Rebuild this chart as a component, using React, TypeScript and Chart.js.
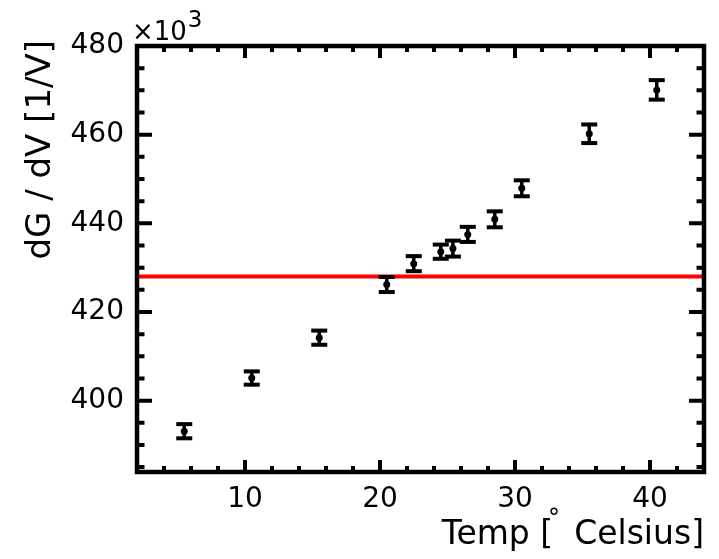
import React, { useEffect, useRef } from "react";
import { Chart, registerables } from "chart.js";

Chart.register(...registerables);

// ---- data ----
const temps = [5.5, 10.5, 15.5, 20.5, 22.5, 24.5, 25.4, 26.5, 28.5, 30.5, 35.5, 40.5];
const dGdV = [393.1, 405.1, 414.2, 426.2, 430.9, 433.6, 434.3, 437.5, 440.9, 447.9, 460.2, 470.1];
const dGdVErr = [1.6, 1.5, 1.6, 1.7, 1.7, 1.6, 1.8, 1.7, 1.8, 1.8, 2.1, 2.2];
const fitLevel = 428.0;

const xTickValues = [10, 20, 30, 40];
const yTickValues = [400, 420, 440, 460, 480];
const xRange = [2.0, 44.0];
const yRange = [383.9, 480];
const xMinorStep = 2;
const yMinorStep = 5;

const xTitle = "Temp [  Celsius]";
const yTitle = "dG / dV [1/V]";
const degreeMark = "°";
const exponentBase = "×10";
const exponentPower = "3";

const FONT = '"DejaVu Sans", "Liberation Sans", sans-serif';

const rootPlugin = {
  id: "rootStyle",
  afterDatasetDraw(chart: any, args: any) {
    if (args.index !== 1) return;
    const ctx = chart.ctx;
    const xs = chart.scales.x;
    const ys = chart.scales.y;
    ctx.save();
    ctx.fillStyle = "#000";
    for (let i = 0; i < temps.length; i++) {
      const px = xs.getPixelForValue(temps[i]);
      const pHi = ys.getPixelForValue(dGdV[i] + dGdVErr[i]);
      const pLo = ys.getPixelForValue(dGdV[i] - dGdVErr[i]);
      ctx.fillRect(px - 1.75, pHi, 3.5, pLo - pHi);
      ctx.fillRect(px - 8, pHi - 2, 16, 4);
      ctx.fillRect(px - 8, pLo - 2, 16, 4);
    }
    ctx.restore();
  },
  afterDraw(chart: any) {
    const ctx = chart.ctx;
    const xs = chart.scales.x;
    const ys = chart.scales.y;
    const { left, right, top, bottom } = chart.chartArea;
    ctx.save();
    ctx.strokeStyle = "#000";
    ctx.lineWidth = 4.5;
    ctx.lineCap = "butt";
    ctx.lineJoin = "miter";
    ctx.strokeRect(left, top, right - left, bottom - top);
    ctx.lineWidth = 4;
    // y ticks
    const yStart = Math.ceil(yRange[0] / yMinorStep) * yMinorStep;
    for (let v = yStart; v <= yRange[1] + 1e-9; v += yMinorStep) {
      const py = ys.getPixelForValue(v);
      const major = yTickValues.includes(v);
      const len = major ? 15 : 7.5;
      ctx.beginPath();
      ctx.moveTo(left, py);
      ctx.lineTo(left + len, py);
      ctx.moveTo(right, py);
      ctx.lineTo(right - len, py);
      ctx.stroke();
    }
    // x ticks
    const xStart = Math.ceil(xRange[0] / xMinorStep) * xMinorStep;
    for (let v = xStart; v <= xRange[1] + 1e-9; v += xMinorStep) {
      const px = xs.getPixelForValue(v);
      const major = xTickValues.includes(v);
      const len = major ? 12 : 6;
      ctx.beginPath();
      ctx.moveTo(px, bottom);
      ctx.lineTo(px, bottom - len);
      ctx.moveTo(px, top);
      ctx.lineTo(px, top + len);
      ctx.stroke();
    }
    // y title
    ctx.fillStyle = "#000";
    ctx.save();
    ctx.translate(41.2, 40);
    ctx.rotate(-Math.PI / 2);
    ctx.font = `34px ${FONT}`;
    ctx.textAlign = "right";
    ctx.textBaseline = "middle";
    ctx.fillText(yTitle, 0, 0);
    ctx.restore();
    // exponent
    ctx.font = `26px ${FONT}`;
    ctx.textAlign = "left";
    ctx.textBaseline = "alphabetic";
    ctx.fillText(exponentBase, 132, 40);
    const w = ctx.measureText(exponentBase).width;
    ctx.font = `23px ${FONT}`;
    ctx.fillText(exponentPower, 132 + w + 1, 27);
    // degree mark
    ctx.font = `24px ${FONT}`;
    ctx.textAlign = "center";
    ctx.fillText(degreeMark, 554, 526);
    ctx.restore();
  },
};

export default function App() {
  const ref = useRef<HTMLCanvasElement | null>(null);
  useEffect(() => {
    if (!ref.current) return;
    const chart = new Chart(ref.current, {
      type: "scatter",
      data: {
        datasets: [
          {
            type: "scatter",
            label: "dG/dV",
            data: temps.map((t, i) => ({ x: t, y: dGdV[i] })),
            pointRadius: 3.5,
            pointBackgroundColor: "#000",
            pointBorderWidth: 0,
            backgroundColor: "#000",
          } as any,
          {
            type: "line",
            label: "fit",
            data: [
              { x: xRange[0], y: fitLevel },
              { x: xRange[1], y: fitLevel },
            ],
            borderColor: "#ff0000",
            borderWidth: 4,
            pointRadius: 0,
            fill: false,
          } as any,
        ],
      },
      options: {
        animation: false,
        responsive: false,
        maintainAspectRatio: false,
        devicePixelRatio: 1,
        layout: { padding: { left: 0, top: 46, right: 15, bottom: 0 } },
        plugins: { legend: { display: false }, tooltip: { enabled: false } },
        scales: {
          x: {
            type: "linear",
            position: "bottom",
            min: xRange[0],
            max: xRange[1],
            afterBuildTicks: (s: any) => {
              s.ticks = xTickValues.map((v) => ({ value: v }));
            },
            afterFit: (s: any) => {
              s.height = 87;
            },
            grid: { display: false, drawTicks: false },
            border: { display: false },
            ticks: {
              color: "#000",
              padding: 11,
              maxRotation: 0,
              autoSkip: false,
              font: { family: FONT, size: 28, lineHeight: 1.2 },
              callback: (v: any) => String(v),
            },
            title: {
              display: true,
              text: xTitle,
              align: "end",
              color: "#000",
              font: { family: FONT, size: 33, lineHeight: 1.2 },
              padding: { top: 0, bottom: 4 },
            },
          },
          y: {
            type: "linear",
            position: "left",
            min: yRange[0],
            max: yRange[1],
            afterBuildTicks: (s: any) => {
              s.ticks = yTickValues.map((v) => ({ value: v }));
            },
            afterFit: (s: any) => {
              s.width = 137;
            },
            grid: { display: false, drawTicks: false },
            border: { display: false },
            ticks: {
              color: "#000",
              padding: 13,
              autoSkip: false,
              font: { family: FONT, size: 28, lineHeight: 1.2 },
              callback: (v: any) => String(v),
            },
          },
        },
      } as any,
      plugins: [rootPlugin],
    });
    return () => chart.destroy();
  }, []);
  return (
    <div style={{ position: "absolute", left: 0, top: 0, width: 719, height: 559, background: "#fff" }}>
      <canvas ref={ref} width={719} height={559} style={{ display: "block" }} />
    </div>
  );
}
